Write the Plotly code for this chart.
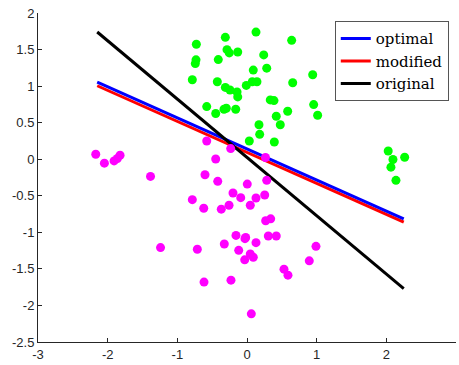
import plotly.graph_objects as go

# Class 1 (green)
green_x = [-0.727, -0.311, 0.129, 0.641, -0.732, -0.742, -0.287, -0.254, -0.133, -0.412,
           0.240, 0.283, 0.090, 0.943, -0.785, -0.426, 0.656, -0.010, 0.076, 0.143,
           -0.311, -0.244, -0.143, -0.133, 0.334, 0.387, 0.957, -0.578, -0.330, -0.297,
           -0.162, -0.449, 0.584, 1.014, 0.420, 0.478, 0.172, 0.182, 0.033, 0.392,
           2.027, 2.263, 2.095, 2.066, 2.138]
green_y = [1.572, 1.667, 1.739, 1.626, 1.359, 1.308, 1.499, 1.454, 1.467, 1.363,
           1.427, 1.246, 1.219, 1.155, 1.087, 1.060, 1.046, 1.010, 1.060, 1.060,
           0.982, 0.947, 0.920, 0.852, 0.811, 0.802, 0.747, 0.720, 0.683, 0.697,
           0.683, 0.625, 0.656, 0.602, 0.588, 0.471, 0.471, 0.340, 0.249, 0.235,
           0.113, 0.027, -0.004, -0.109, -0.289]

# Class 2 (magenta)
magenta_x = [-0.578, -0.234, -0.449, 0.265, -1.385, -0.603, -0.420, 0.004, 0.283, -0.201,
             -0.090, 0.129, 0.254, -0.785, -0.621, -0.369, -0.258, 0.047, 0.268, 0.340,
             -0.158, -0.029, -0.019, 0.306, 0.420, 0.129, 0.990, -1.241, -0.713, -0.326,
             -0.119, 0.047, 0.090, -0.033, 0.894, 0.531, 0.588, -0.617, -0.230, 0.062,
             -2.171, -2.047, -1.908, -1.861, -1.822]
magenta_y = [0.249, 0.145, 0.003, 0.023, -0.235, -0.213, -0.303, -0.340, -0.289, -0.462,
             -0.526, -0.530, -0.489, -0.553, -0.670, -0.683, -0.629, -0.629, -0.842, -0.815,
             -1.042, -1.087, -1.069, -1.050, -1.050, -1.141, -1.192, -1.209, -1.232, -1.159,
             -1.246, -1.295, -1.341, -1.376, -1.390, -1.504, -1.586, -1.681, -1.654, -2.115,
             0.068, -0.054, -0.023, 0.010, 0.054]

# Decision boundaries (endpoints)
line_x = [-2.15, 2.25]
optimal_y = [1.055, -0.815]
modified_y = [1.005, -0.860]
original_y = [1.74, -1.77]

x_ticks = [-3, -2, -1, 0, 1, 2, 3]
y_ticks = [-2.5, -2, -1.5, -1, -0.5, 0, 0.5, 1, 1.5, 2]

fig = go.Figure()
fig.add_trace(go.Scatter(x=line_x, y=modified_y, mode="lines", name="modified",
                         line=dict(color="#FF0000", width=3)))
fig.add_trace(go.Scatter(x=line_x, y=optimal_y, mode="lines", name="optimal",
                         line=dict(color="#0000FF", width=3)))
fig.add_trace(go.Scatter(x=line_x, y=original_y, mode="lines", name="original",
                         line=dict(color="#000000", width=3)))
fig.add_trace(go.Scatter(x=green_x, y=green_y, mode="markers", showlegend=False,
                         marker=dict(color="#00FF00", size=9, line=dict(width=0))))
fig.add_trace(go.Scatter(x=magenta_x, y=magenta_y, mode="markers", showlegend=False,
                         marker=dict(color="#FF00FF", size=9, line=dict(width=0))))

axis_common = dict(showgrid=False, zeroline=False, showline=True, linecolor="#262626",
                   linewidth=1, ticks="inside", ticklen=4, tickcolor="#262626",
                   tickfont=dict(family="Liberation Sans, Arial", size=13, color="#262626"),
                   mirror=False)

fig.update_layout(
    width=459, height=365,
    margin=dict(l=38, r=3, t=13, b=21),
    paper_bgcolor="white", plot_bgcolor="white",
    xaxis=dict(range=[-3, 3], tickvals=x_ticks, ticktext=[str(v) for v in x_ticks], **axis_common),
    yaxis=dict(range=[-2.5, 2], tickvals=y_ticks, ticktext=[("%g" % v) for v in y_ticks], **axis_common),
    legend=dict(x=0.71, y=0.975, xanchor="left", yanchor="top",
                bgcolor="white", bordercolor="#555555", borderwidth=1,
                font=dict(family="DejaVu Serif", size=15, color="black"),
                traceorder="normal", tracegroupgap=0, itemwidth=30),
)
# Legend order: optimal, modified, original
fig.data[0].legendrank = 2
fig.data[1].legendrank = 1
fig.data[2].legendrank = 3

fig.write_html("out.html")
